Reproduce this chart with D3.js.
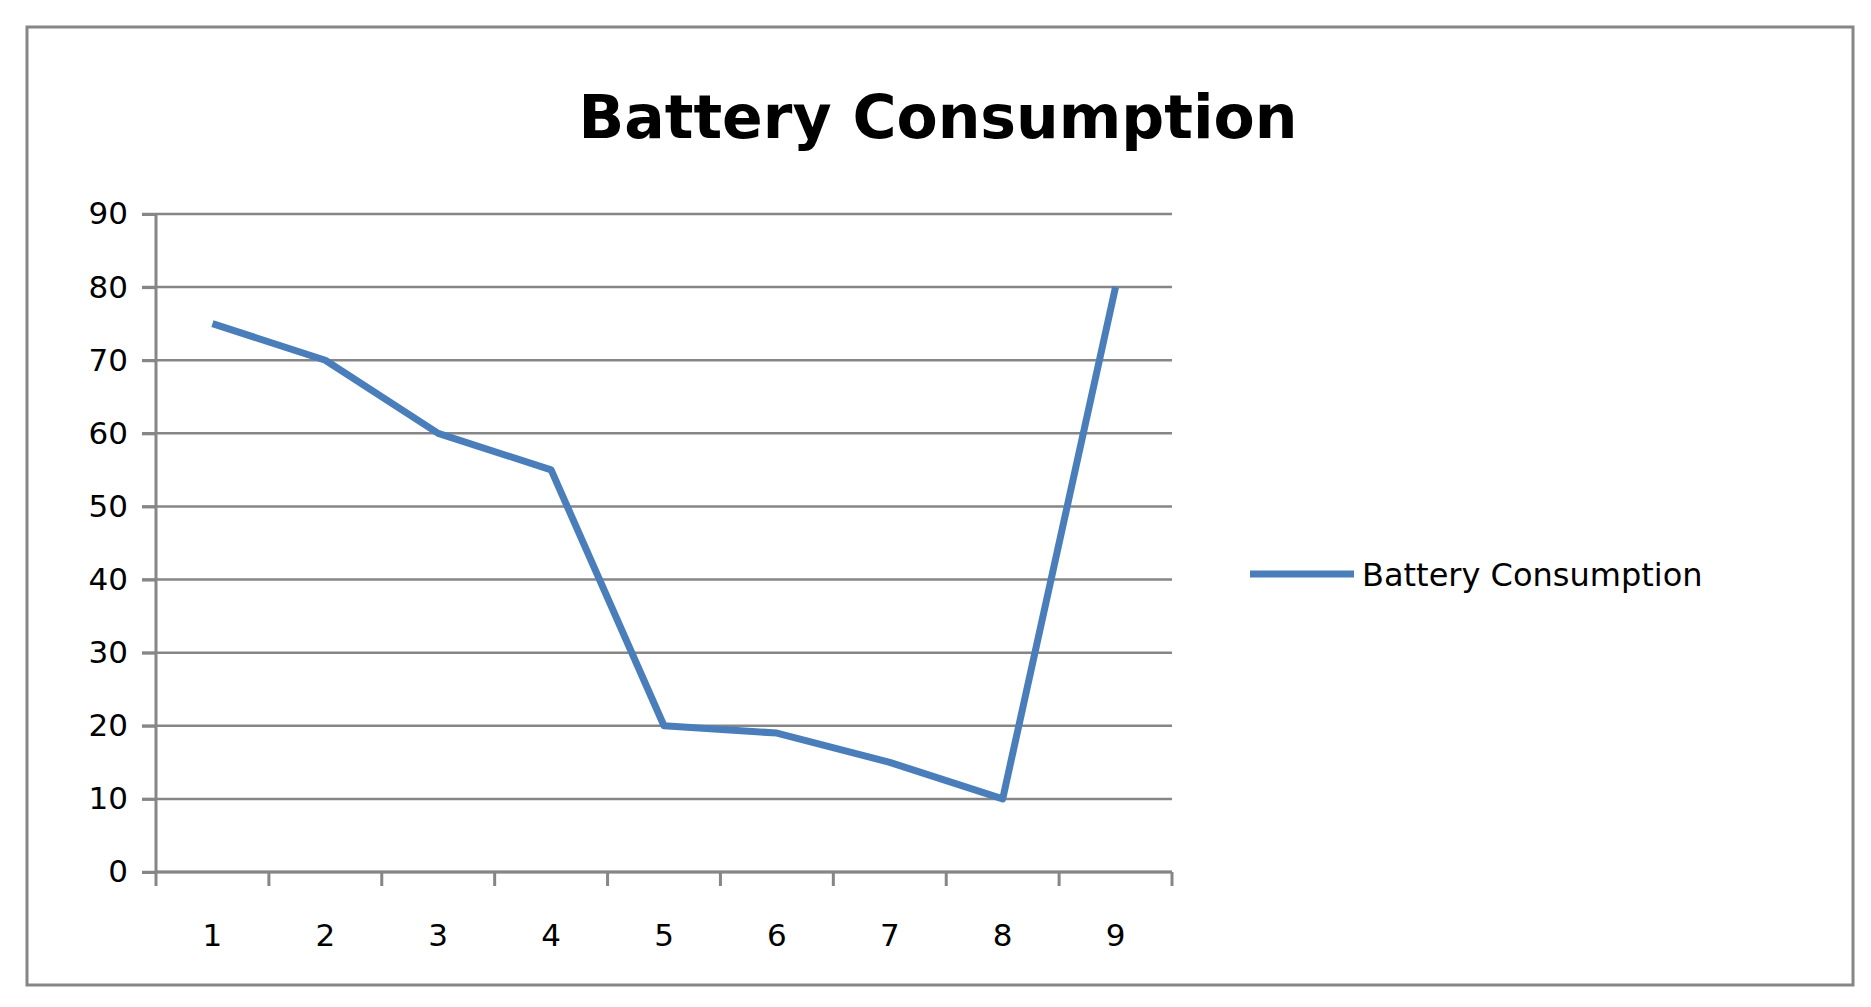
<!DOCTYPE html>
<html><head><meta charset="utf-8">
<script src="https://cdn.jsdelivr.net/npm/d3@7"></script>
<style>body{margin:0;background:#fff}</style>
</head><body>
<svg id="chart" width="1871" height="1007"></svg>
<script>
const categories = ['1','2','3','4','5','6','7','8','9']
const values = [75, 70, 60, 55, 20, 19, 15, 10, 80]
const yTicks = [0, 10, 20, 30, 40, 50, 60, 70, 80, 90]
const seriesName = 'Battery Consumption'

const svg = d3.select('#chart')
svg.append('rect').attr('x', 27).attr('y', 27).attr('width', 1826).attr('height', 958)
    .attr('fill', '#fff').attr('stroke', '#868686').attr('stroke-width', 3)

svg.append('text').attr('x', 938).attr('y', 138).attr('text-anchor', 'middle')
    .style('font', 'bold 60px "DejaVu Sans"').text(seriesName)

const x = d3.scaleBand().domain(categories).range([156, 1172])
const y = d3.scaleLinear().domain([0, 90]).range([872, 214])

// gridlines
svg.append('g').selectAll('line').data(yTicks).enter().append('line')
    .attr('x1', 142).attr('x2', 1172)
    .attr('y1', d => y(d)).attr('y2', d => y(d))
    .attr('stroke', '#868686').attr('stroke-width', 2.5)

const yAxis = svg.append('g').attr('transform', 'translate(156,0)')
    .call(d3.axisLeft(y).tickValues(yTicks).tickSize(14).tickPadding(14))
const xAxis = svg.append('g').attr('transform', 'translate(0,872)')
    .call(d3.axisBottom(x).tickSize(0).tickPadding(52))
xAxis.selectAll('.tick line').remove()
xAxis.selectAll('.bt').data(d3.range(categories.length + 1)).enter().append('line')
    .attr('x1', i => 156 + i * x.step()).attr('x2', i => 156 + i * x.step())
    .attr('y1', 0).attr('y2', 14)
for (const ax of [yAxis, xAxis]) {
    ax.selectAll('path.domain').attr('stroke', '#868686').attr('stroke-width', 3)
    ax.selectAll('line').attr('stroke', '#868686').attr('stroke-width', 3)
    ax.selectAll('text').style('font', '31px "DejaVu Sans"').attr('fill', '#000')
}
yAxis.select('path.domain').attr('d', 'M0,214V872')
xAxis.select('path.domain').attr('d', 'M156,0H1172')

const line = d3.line().x((d, i) => x(categories[i]) + x.bandwidth() / 2).y(d => y(d))
svg.append('path').datum(values).attr('d', line).attr('fill', 'none')
    .attr('stroke', '#4a7ebb').attr('stroke-width', 7).attr('stroke-linejoin', 'round')

// legend
svg.append('line').attr('x1', 1250).attr('x2', 1354).attr('y1', 574).attr('y2', 574)
    .attr('stroke', '#4a7ebb').attr('stroke-width', 7)
svg.append('text').attr('x', 1362).attr('y', 586)
    .style('font', '32px "DejaVu Sans"').text(seriesName)
</script>
</body></html>
